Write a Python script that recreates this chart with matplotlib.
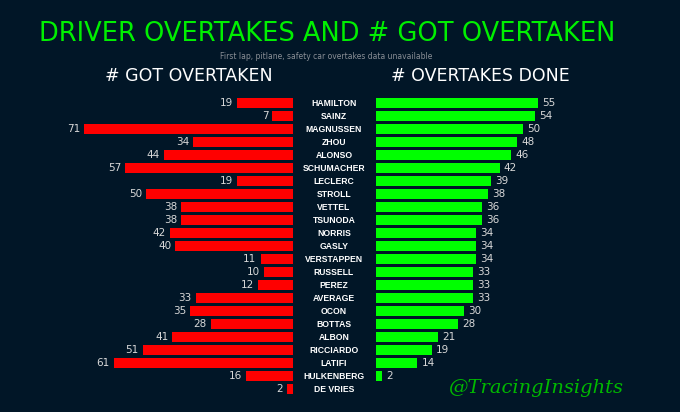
import matplotlib
matplotlib.use("Agg")
import matplotlib.pyplot as plt
import matplotlib.transforms as mtransforms

drivers = ["HAMILTON", "SAINZ", "MAGNUSSEN", "ZHOU", "ALONSO", "SCHUMACHER",
           "LECLERC", "STROLL", "VETTEL", "TSUNODA", "NORRIS", "GASLY",
           "VERSTAPPEN", "RUSSELL", "PEREZ", "AVERAGE", "OCON", "BOTTAS",
           "ALBON", "RICCIARDO", "LATIFI", "HULKENBERG", "DE VRIES"]
got_overtaken = [19, 7, 71, 34, 44, 57, 19, 50, 38, 38, 42, 40,
                 11, 10, 12, 33, 35, 28, 41, 51, 61, 16, 2]
overtakes_done = [55, 54, 50, 48, 46, 42, 39, 38, 36, 36, 34, 34,
                  34, 33, 33, 33, 30, 28, 21, 19, 14, 2, 0]

bg = "#011627"
fig = plt.figure(figsize=(6.8, 4.12), dpi=100, facecolor=bg)

ax1 = fig.add_axes([0.085, 0.040, 0.346, 0.7257])
ax2 = fig.add_axes([0.553, 0.040, 0.346, 0.7257])
ypos = list(range(len(drivers)))

ax1.barh(ypos, got_overtaken, height=0.78, color="#ff0000")
ax2.barh(ypos, overtakes_done, height=0.78, color="#00ff00")

for ax in (ax1, ax2):
    ax.set_facecolor(bg)
    ax.set_ylim(len(drivers) - 0.5, -0.5)
    ax.axis("off")
ax1.set_xlim(80, 0)
ax2.set_xlim(0, 80)

for y, v in zip(ypos, got_overtaken):
    ax1.annotate(str(v), (v, y), xytext=(-3, 0), textcoords="offset points",
                 ha="right", va="center", fontsize=7.5, color="#d8d8d8")
for y, v in zip(ypos, overtakes_done):
    if v > 0:
        ax2.annotate(str(v), (v, y), xytext=(3, 0), textcoords="offset points",
                     ha="left", va="center", fontsize=7.5, color="#d8d8d8")

trans = mtransforms.blended_transform_factory(fig.transFigure, ax1.transData)
for y, name in zip(ypos, drivers):
    fig.text(0.491, y, name, transform=trans, ha="center", va="center",
             fontsize=6.2, fontweight="bold", color="white",
             family="Liberation Sans")

fig.text(0.481, 0.918, "DRIVER OVERTAKES AND # GOT OVERTAKEN", ha="center",
         va="center", fontsize=18.5, color="#00f000")
fig.text(0.48, 0.862, "First lap, pitlane, safety car overtakes data unavailable",
         ha="center", va="center", fontsize=5.5, color="#8a8f96")
fig.text(0.278, 0.816, "# GOT OVERTAKEN", ha="center", va="center",
         fontsize=12.5, color="white")
fig.text(0.706, 0.816, "# OVERTAKES DONE", ha="center", va="center",
         fontsize=12.5, color="white")
fig.text(0.788, 0.058, "@TracingInsights", ha="center", va="center",
         fontsize=14, color="#00b800", style="italic", family="DejaVu Serif")

fig.savefig("out.png", dpi=100, facecolor=bg)
